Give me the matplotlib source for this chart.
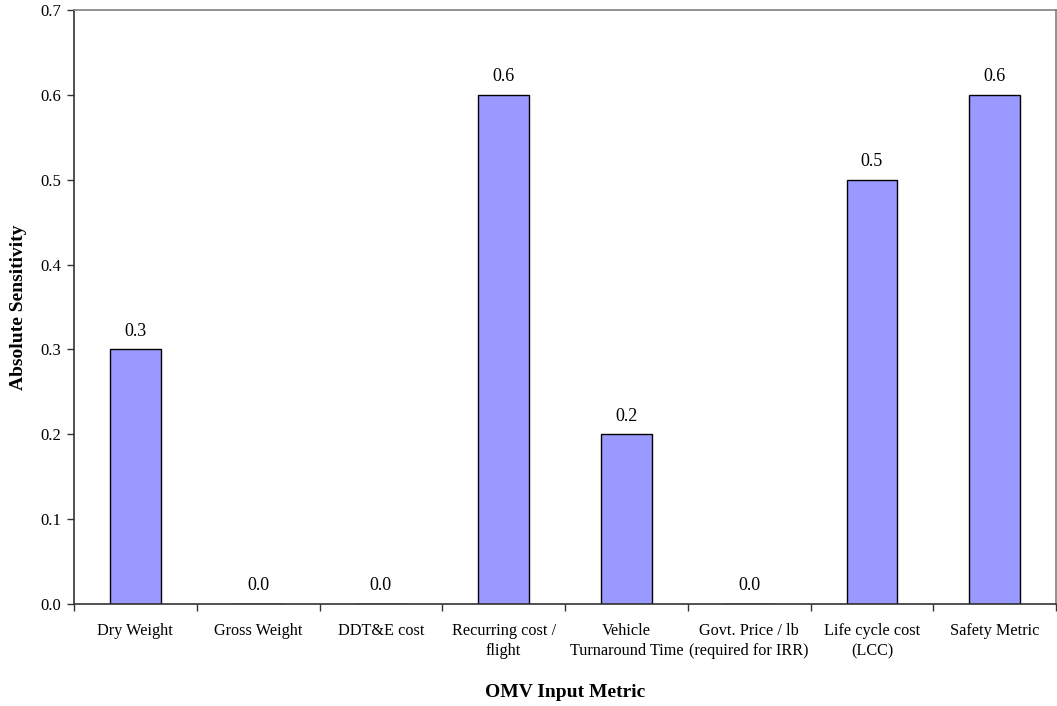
import matplotlib
matplotlib.use("Agg")
import matplotlib.pyplot as plt
import numpy as np

plt.rcParams['font.family'] = ['Liberation Serif', 'DejaVu Serif']

categories = [
    "Dry Weight",
    "Gross Weight",
    "DDT&E cost",
    "Recurring cost /\nflight",
    "Vehicle\nTurnaround Time",
    "Govt. Price / lb\n(required for IRR)",
    "Life cycle cost\n(LCC)",
    "Safety Metric",
]
sensitivity = [0.3, 0.0, 0.0, 0.6, 0.2, 0.0, 0.5, 0.6]
y_ticks = [0.0, 0.1, 0.2, 0.3, 0.4, 0.5, 0.6, 0.7]

fig = plt.figure(figsize=(10.57, 7.06), dpi=100)
ax = fig.add_axes([74 / 1057, 1 - 604 / 706, (1056 - 74) / 1057, (604 - 10) / 706])

x = np.arange(len(categories))
ax.bar(x, sensitivity, width=0.41, color="#9999FF", edgecolor="black",
       linewidth=1.0, zorder=2)

for xi, v in zip(x, sensitivity):
    ax.annotate(f"{v:.1f}", xy=(xi, v), xytext=(0, 7), textcoords="offset points",
                ha="center", va="bottom", fontsize=13)

ax.set_xlim(-0.5, len(categories) - 0.5)
ax.set_ylim(0, 0.7)
ax.set_yticks(y_ticks)
ax.set_yticklabels([f"{t:.1f}" for t in y_ticks], fontsize=12)

ax.set_xticks(x)
ax.set_xticklabels(categories, fontsize=11.7, linespacing=1.3, va="top")
ax.set_xticks(np.arange(len(categories) + 1) - 0.5, minor=True)
ax.tick_params(axis="x", which="major", length=0, pad=14)
ax.tick_params(axis="x", which="minor", length=5, width=1, color="#333333")
ax.tick_params(axis="y", length=5, width=1, color="#333333", pad=4)

for side in ("top", "right"):
    ax.spines[side].set_color("#808080")
    ax.spines[side].set_linewidth(1.2)
for side in ("left", "bottom"):
    ax.spines[side].set_color("#333333")
    ax.spines[side].set_linewidth(1.2)

ax.set_ylabel("Absolute Sensitivity", fontsize=14, fontweight="bold", labelpad=10)
ax.set_xlabel("OMV Input Metric", fontsize=14, fontweight="bold", labelpad=18)

fig.savefig("out.png", dpi=100)
